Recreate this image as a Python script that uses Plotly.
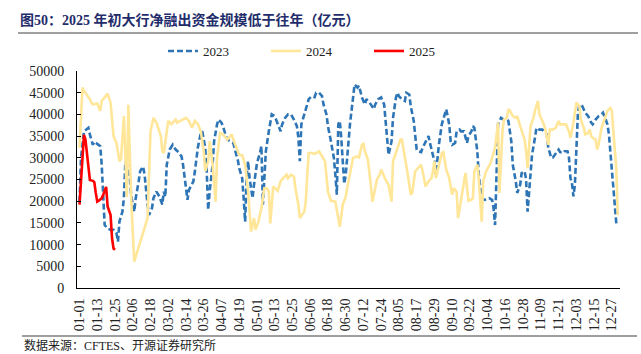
import pandas as pd
import plotly.graph_objects as go

# ---------------- data (day-of-year offsets from 01-01, values in 亿元) ----------------
day_2023 = [0, 1, 3, 6, 7, 9, 10, 11, 14, 15, 16, 17, 19, 21, 23, 25, 26, 27, 29, 30,
            31, 32, 34, 35, 37, 38, 40, 41, 43, 44, 46, 47, 49, 50, 52, 54, 56, 57, 58, 59,
            61, 63, 65, 67, 69, 70, 72, 73, 74, 76, 77, 78, 80, 82, 83, 85, 86, 87, 88, 90,
            91, 93, 94, 96, 97, 99, 100, 102, 104, 106, 107, 108, 110, 111, 112, 113, 114, 115, 117, 118,
            119, 120, 122, 123, 124, 126, 128, 130, 132, 133, 136, 137, 139, 141, 143, 145, 147, 148, 149, 150,
            153, 155, 157, 159, 160, 162, 164, 165, 167, 168, 170, 172, 173, 174, 175, 176, 177, 178, 179, 180,
            181, 182, 183, 185, 186, 188, 189, 191, 193, 194, 196, 197, 199, 200, 202, 204, 206, 207, 208, 209,
            211, 212, 214, 215, 216, 218, 220, 221, 223, 224, 226, 227, 228, 229, 231, 232, 234, 236, 237, 239,
            240, 241, 243, 245, 247, 248, 250, 251, 252, 254, 255, 257, 258, 260, 262, 263, 265, 266, 267, 269,
            270, 271, 272, 274, 277, 279, 280, 281, 282, 283, 285, 287, 289, 290, 292, 293, 295, 296, 298, 299,
            301, 302, 303, 305, 306, 308, 309, 311, 313, 314, 316, 317, 319, 320, 322, 324, 325, 327, 328, 330,
            331, 332, 333, 334, 335, 336, 337, 338, 340, 342, 344, 346, 347, 349, 351, 353, 354, 355, 357, 358,
            359, 360, 361, 362, 363]
val_2023 = [19900, 30000, 36100, 36900, 35400, 33000, 33700, 33400, 32700, 28400, 20700, 14500, 13700, 13400, 13400, 12600, 10700, 15300, 17600, 20700,
            29200, 28400, 25300, 21100, 17600, 20700, 24600, 26900, 28000, 26100, 19200, 16800, 18400, 20700, 22200, 21100, 19200, 22200, 21000, 28400,
            31900, 33000, 31900, 31300, 30300, 28400, 23000, 20300, 22600, 23800, 24600, 26900, 32300, 35700, 36100, 32300, 26900, 18000, 22200, 28400,
            33800, 37700, 38800, 38100, 37300, 35000, 34200, 33800, 33400, 30700, 29600, 27600, 25300, 20700, 15300, 25300, 29200, 25300, 20700, 23800,
            26900, 28800, 31100, 32700, 19200, 31500, 36100, 40000, 39600, 38800, 36100, 37700, 39200, 40000, 40000, 38800, 37300, 34600, 29200, 37700,
            41500, 43500, 44200, 44000, 45000, 45000, 44200, 42300, 40000, 37300, 33800, 30000, 26100, 21500, 37700, 38500, 34600, 27600, 24000, 26000,
            30700, 34600, 38100, 43900, 46900, 46200, 46600, 43900, 42300, 43500, 42700, 42300, 41200, 42300, 43500, 43900, 42300, 38500, 34600, 30700,
            33800, 39200, 43900, 45000, 44200, 43500, 43100, 45000, 44600, 41900, 38500, 35000, 31900, 31500, 31300, 32300, 33800, 35000, 33400, 30700,
            29200, 26100, 33000, 37700, 40000, 41200, 37700, 33800, 33000, 33400, 36100, 36500, 36100, 36100, 33400, 35000, 36100, 37300, 36900, 31500,
            26100, 23000, 20700, 20300, 20700, 20300, 18400, 14500, 24600, 37700, 39200, 38800, 38800, 38500, 33800, 28400, 24600, 21900, 23800, 26500,
            26900, 25000, 17600, 25300, 30700, 34600, 36900, 36500, 36500, 36100, 35400, 32300, 30000, 30000, 31100, 31900, 31300, 31100, 31500, 31500,
            30000, 25300, 24200, 21100, 23800, 33000, 40000, 42300, 41900, 40400, 39600, 38100, 37700, 38800, 39600, 40000, 40400, 39600, 37700, 35400,
            31500, 26900, 22200, 18400, 14900]

day_2024 = [0, 2, 3, 7, 8, 9, 12, 14, 15, 19, 21, 23, 25, 27, 28, 30, 32, 33, 35, 37,
            46, 48, 50, 52, 55, 56, 57, 59, 60, 62, 65, 66, 68, 72, 74, 76, 78, 80, 82, 84,
            85, 87, 88, 90, 92, 93, 95, 97, 99, 100, 102, 103, 104, 106, 108, 110, 112, 114, 116, 118,
            119, 121, 123, 125, 127, 128, 129, 131, 132, 134, 136, 138, 140, 141, 143, 145, 146, 148, 149, 152,
            153, 154, 155, 157, 159, 162, 163, 164, 166, 168, 170, 173, 175, 176, 178, 180, 181, 183, 185, 188,
            189, 191, 192, 193, 195, 197, 198, 200, 201, 203, 204, 206, 207, 209, 211, 212, 215, 217, 218, 220,
            222, 224, 225, 227, 229, 231, 232, 234, 236, 238, 239, 240, 241, 243, 245, 246, 248, 250, 252, 253,
            255, 256, 258, 260, 261, 263, 265, 266, 267, 269, 270, 271, 272, 273, 275, 278, 280, 281, 283, 284,
            286, 287, 289, 290, 291, 293, 295, 296, 298, 299, 301, 302, 303, 305, 307, 308, 310, 311, 314, 315,
            317, 318, 320, 322, 324, 325, 327, 329, 331, 332, 334, 335, 336, 338, 339, 341, 342, 344, 345, 346,
            347, 349, 350, 351, 353, 355, 357, 359, 360, 361, 362, 363, 364]
val_2024 = [32300, 46200, 45400, 43500, 42700, 42300, 42500, 40800, 43100, 44800, 42700, 35000, 33400, 29200, 29600, 39600, 21000, 42200, 20000, 6100,
            16100, 36100, 39200, 38100, 35000, 31500, 31100, 36100, 38500, 37700, 38800, 38100, 38500, 39200, 38500, 36900, 38500, 37800, 36100, 31500,
            26900, 29200, 33800, 28400, 19900, 30000, 35700, 35400, 34600, 34200, 35000, 35400, 34200, 32300, 30700, 30600, 28400, 22200, 13000, 16100,
            13400, 15300, 18400, 23000, 22900, 22200, 14900, 23400, 23000, 22400, 24600, 25300, 26100, 25300, 26100, 25700, 23000, 19200, 16100, 17600,
            19900, 26100, 31100, 31100, 30900, 31500, 30900, 30300, 29200, 22200, 20100, 19900, 15300, 14100, 19200, 21000, 23000, 26900, 30000, 30300,
            30100, 33000, 33200, 31500, 29600, 23800, 19900, 23000, 24900, 26100, 27300, 25700, 24900, 23800, 19900, 29200, 32300, 34200, 34200, 30300,
            26100, 21500, 21900, 26900, 27600, 28400, 26900, 23400, 24600, 25300, 26900, 29200, 25300, 28400, 31100, 31300, 27300, 25300, 21500, 23000,
            22200, 16100, 20700, 24900, 26500, 20100, 20300, 20700, 26900, 28400, 25300, 19900, 15300, 24600, 26900, 28800, 31100, 32300, 38100, 21900,
            36100, 38800, 39200, 41200, 40900, 39600, 39200, 39600, 37300, 36100, 34200, 31500, 27600, 37300, 39200, 40800, 43100, 40000, 37700, 36500,
            33000, 36500, 36500, 36900, 38500, 37700, 37700, 37700, 36100, 34600, 38100, 40800, 42700, 41900, 38800, 36900, 35400, 35700, 36500, 35000,
            34600, 34200, 31900, 33000, 36900, 38800, 40800, 41500, 40800, 36100, 31500, 27600, 16800]

day_2025 = [0, 1, 2, 3, 4, 5, 6, 7, 9, 10, 11, 12, 13, 15, 16, 17, 18, 19, 20, 21, 22, 23, 24]
val_2025 = [19200, 25000, 30000, 35300, 34200, 31500, 28400, 24900, 24700, 24400, 21900, 19900, 20100,
            20700, 21500, 22200, 23300, 18800, 18000, 16800, 11400, 9100, 8800]

series_names = ["2023", "2024", "2025"]
colors = ["#2E75B6", "#FFE699", "#FF0000"]

title_text = "图50：2025 年初大行净融出资金规模低于往年（亿元）"
source_text = "数据来源：CFTES、开源证券研究所"

# ---------------- figure ----------------
base = pd.Timestamp("2023-01-01")


def to_dates(days):
    return [base + pd.Timedelta(days=d) for d in days]


FONT = "Liberation Serif, Times New Roman, Noto Sans CJK SC, serif"

fig = go.Figure()
fig.add_trace(go.Scatter(x=to_dates(day_2023), y=val_2023, mode="lines", name=series_names[0],
                         line=dict(color=colors[0], width=2.6, dash="6px,3px")))
fig.add_trace(go.Scatter(x=to_dates(day_2024), y=val_2024, mode="lines", name=series_names[1],
                         line=dict(color=colors[1], width=2.6)))
fig.add_trace(go.Scatter(x=to_dates(day_2025), y=val_2025, mode="lines", name=series_names[2],
                         line=dict(color=colors[2], width=2.6)))

PL, PR, PT, PB = 77, 620, 71, 288
pw, ph = PR - PL, PB - PT


def px_x(x):
    return (x - PL) / pw


def px_y(y):
    return (PB - y) / ph


fig.update_layout(
    width=641, height=354,
    margin=dict(l=PL, r=641 - PR, t=PT, b=354 - PB),
    paper_bgcolor="white", plot_bgcolor="white",
    font=dict(family=FONT, size=13, color="#222222"),
    title=dict(text="<b>" + title_text + "</b>", x=20 / 641, xanchor="left",
               y=1 - 20 / 354, yanchor="middle", xref="container", yref="container",
               font=dict(family=FONT, size=14, color="#1F2D6B")),
    legend=dict(orientation="h", x=px_x(163), xanchor="left", y=px_y(51), yanchor="middle",
                font=dict(family=FONT, size=13, color="#222222"),
                entrywidth=58, entrywidthmode="pixels", bgcolor="rgba(0,0,0,0)",
                itemclick=False),
    showlegend=True,
    shapes=[
        dict(type="line", xref="paper", yref="paper", x0=px_x(18), x1=px_x(638), y0=px_y(33), y1=px_y(33),
             line=dict(color="#7F7F7F", width=1.6)),
        dict(type="line", xref="paper", yref="paper", x0=px_x(22), x1=px_x(637), y0=px_y(336), y1=px_y(336),
             line=dict(color="#7F7F7F", width=1.6)),
    ],
    annotations=[
        dict(text=source_text, xref="paper", yref="paper", x=px_x(22), y=px_y(345),
             xanchor="left", yanchor="middle", showarrow=False,
             font=dict(family=FONT, size=12, color="#222222")),
    ],
)

fig.update_xaxes(
    type="date",
    range=[base - pd.Timedelta(hours=41), base + pd.Timedelta(hours=int(365.5 * 24))],
    tick0="2023-01-01", dtick=12 * 86400000, tickformat="%m-%d", tickangle=-90,
    showline=True, linecolor="#000000", linewidth=1, showgrid=False, zeroline=False,
    ticks="", ticklabelstandoff=4,
    tickfont=dict(family=FONT, size=14, color="#222222"),
)
fig.update_yaxes(
    range=[0, 50000], dtick=5000, tick0=0, tickformat="d",
    showline=True, linecolor="#000000", linewidth=1, showgrid=False, zeroline=False,
    ticks="inside", ticklen=4, tickcolor="#000000", ticklabelstandoff=9,
    tickfont=dict(family=FONT, size=14, color="#222222"),
)

fig.write_html("out.html")
